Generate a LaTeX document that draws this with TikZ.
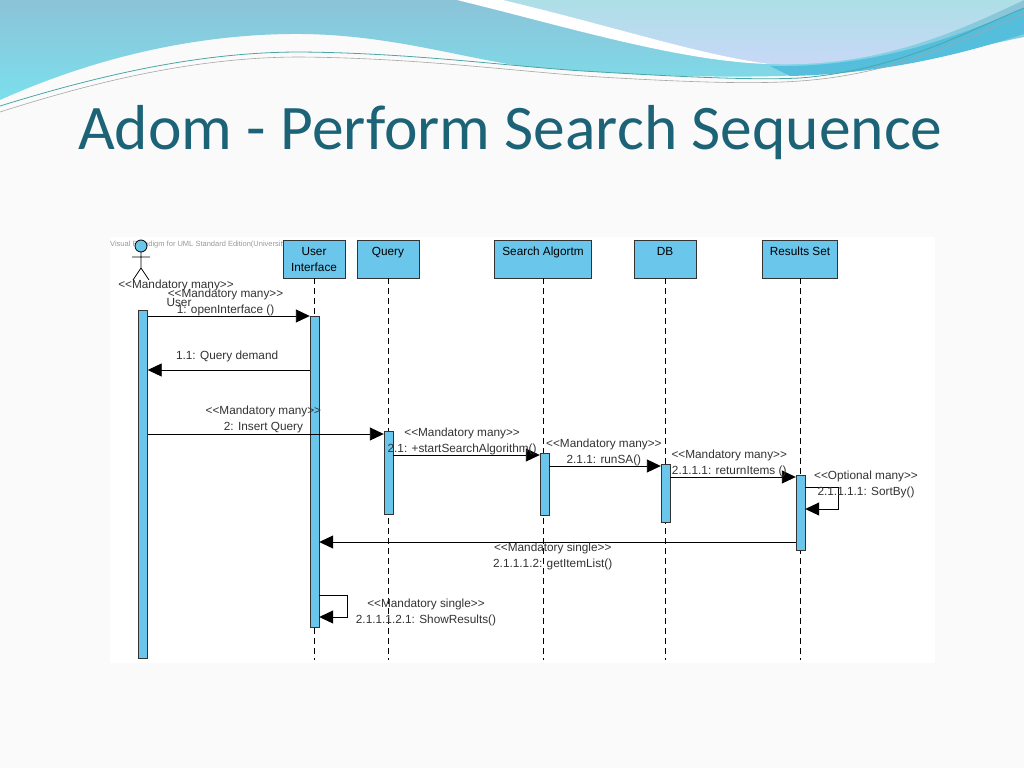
\documentclass[tikz,border=0pt]{standalone}
\usepackage{fontspec}
\setmainfont{Liberation Sans}[Ligatures=TeXOff]
\newfontfamily\titlefont{Carlito}
\usetikzlibrary{arrows.meta}
\definecolor{slidebg}{HTML}{FAFAFA}
\definecolor{titleteal}{HTML}{1C6377}
\definecolor{umlblue}{HTML}{6BC6EC}
\definecolor{wavetop}{HTML}{8CC3D8}
\definecolor{wavecyan}{HTML}{7BDFEC}
\definecolor{wavepale}{HTML}{ADDFE6}
\definecolor{wavemid}{HTML}{55BEDC}
\tikzset{
  head/.style={draw=black!80, fill=umlblue, anchor=north, align=center, inner sep=0pt,
    minimum height=38pt, font=\fontsize{11.8}{16}\selectfont},
  bar/.style={draw=black!80, fill=umlblue, anchor=north, inner sep=0pt, minimum width=9pt},
  life/.style={black, line width=0.8pt, dash pattern=on 6pt off 4pt},
  msg/.style={black, line width=0.9pt, -{Triangle[length=14pt, width=13pt]}},
  lbl/.style={align=center, inner sep=0pt, text=black!80, font=\fontsize{11.8}{16}\selectfont}
}
\begin{document}
\begin{tikzpicture}[x=1pt, y=-1pt]
\useasboundingbox (0,0) rectangle (1024,768);
\fill[slidebg] (0,0) rectangle (1024,768);
% top waves
\shade[top color=wavetop, bottom color=wavecyan] (0,0) -- (1024,0) -- (1024,37)
  .. controls (960,50) and (880,72) .. (780,76)
  .. controls (700,78) and (620,75) .. (520,66)
  .. controls (450,55) and (380,33) .. (290,34)
  .. controls (200,35) and (100,55) .. (0,100) -- cycle;
\fill[wavemid] (770,66) .. controls (880,68) and (960,35) .. (1024,8) -- (1024,34)
  .. controls (960,55) and (880,74) .. (790,76) -- cycle;
\shade[top color=wavepale, bottom color=wavepale!70!blue!40!white] (503,0)
  .. controls (620,28) and (700,55) .. (770,64)
  .. controls (880,68) and (960,30) .. (1024,0) -- cycle;
\fill[white] (457,0) -- (503,0) .. controls (620,28) and (700,55) .. (770,64)
  .. controls (680,62) and (560,25) .. (457,0) -- cycle;
\draw[teal!70, line width=0.8pt] (0,106) .. controls (100,75) and (200,52) .. (300,52)
  .. controls (420,53) and (520,68) .. (600,72) .. controls (700,78) and (760,80) .. (800,78)
  .. controls (900,70) and (970,30) .. (1024,8);
\draw[gray!70, line width=0.6pt] (0,112) .. controls (100,80) and (200,57) .. (300,57)
  .. controls (420,58) and (520,72) .. (600,77) .. controls (700,83) and (760,84) .. (800,81)
  .. controls (900,74) and (970,36) .. (1024,14);
% title
\node[anchor=base west, inner sep=0pt, text=titleteal, font=\titlefont\fontsize{63.5}{70}\selectfont]
  (T_title) at (78,149) {Adom - Perform Search Sequence};
% diagram area
\fill[white] (110,237) rectangle (935,663);
\node[anchor=west, inner sep=0pt, text=black!40, font=\fontsize{7.5}{9}\selectfont]
  (W_mark) at (110,245) {Visual Paradigm for UML Standard Edition(University};
% actor
\filldraw[draw=black, fill=umlblue, line width=0.8pt] (141,246) circle (6);
\draw[black, line width=0.8pt] (141,252) -- (141,268) (132,257) -- (150,257)
  (133,280) -- (141,268) -- (149,280);
\node[lbl] (A_stereo) at (176,285) {<<Mandatory many>>};
\node[lbl] (A_name) at (179,302) {User};
% lifeline heads
\node[head, minimum width=62pt] (H_ui) at (314,240) {User\\Interface};
\node[head, minimum width=62pt] (H_query) at (388,240) {Query\\\mbox{}};
\node[head, minimum width=97pt] (H_sa) at (543,240) {Search Algortm\\\mbox{}};
\node[head, minimum width=62pt] (H_db) at (665,240) {DB\\\mbox{}};
\node[head, minimum width=75pt] (H_rs) at (800,240) {Results Set\\\mbox{}};
\coordinate (E_ui) at (314,660);
\coordinate (E_query) at (388,660);
\coordinate (E_sa) at (543,660);
\coordinate (E_db) at (665,660);
\coordinate (E_rs) at (800,660);
\foreach \n in {ui,query,sa,db,rs}
  \draw[life] (H_\n.south) -- (E_\n);
% activations
\node[bar, minimum height=348pt] (B_user) at (143,310) {};
\node[bar, minimum height=311pt] (B_ui) at (314.5,316) {};
\node[bar, minimum height=83pt] (B_query) at (388.5,431) {};
\node[bar, minimum height=62pt] (B_sa) at (544.5,453) {};
\node[bar, minimum height=58pt] (B_db) at (665.5,464) {};
\node[bar, minimum height=75pt] (B_rs) at (800.5,475) {};
% messages
\coordinate (m1a) at (B_user.east |- 0,316);
\coordinate (m1b) at (B_ui.west |- 0,316);
\draw[msg] (m1a) -- (m1b) node[lbl, pos=0.48, above] {<<Mandatory many>>\\1: openInterface ()};
\coordinate (m2a) at (B_ui.west |- 0,370);
\coordinate (m2b) at (B_user.east |- 0,370);
\draw[msg] (m2a) -- (m2b) node[lbl, pos=0.51, above=8pt] {1.1: Query demand};
\coordinate (m3a) at (B_user.east |- 0,434);
\coordinate (m3b) at (B_query.west |- 0,434);
\draw[msg] (m3a) -- (m3b) node[lbl, pos=0.49, above=1pt] {<<Mandatory many>>\\2: Insert Query};
\coordinate (m4a) at (B_query.east |- 0,455);
\coordinate (m4b) at (B_sa.west |- 0,455);
\draw[msg] (m4a) -- (m4b) node[lbl, pos=0.47, above] {<<Mandatory many>>\\2.1: +startSearchAlgorithm()};
\coordinate (m5a) at (B_sa.east |- 0,466);
\coordinate (m5b) at (B_db.west |- 0,466);
\draw[msg] (m5a) -- (m5b) node[lbl, pos=0.49, above] {<<Mandatory many>>\\2.1.1: runSA()};
\coordinate (m6a) at (B_db.east |- 0,477);
\coordinate (m6b) at (B_rs.west |- 0,477);
\draw[msg] (m6a) -- (m6b) node[lbl, pos=0.47, above] {<<Mandatory many>>\\2.1.1.1: returnItems ()};
\coordinate (m7a) at (B_rs.east |- 0,487);
\coordinate (m7b) at (B_rs.east |- 0,509);
\draw[msg] (m7a) -- ++(33,0) |- (m7b);
\node[lbl, anchor=base] (L_m7) at (866,495) {<<Optional many>>\\2.1.1.1.1: SortBy()};
\coordinate (m8a) at (B_rs.west |- 0,542);
\coordinate (m8b) at (B_ui.east |- 0,542);
\draw[msg] (m8a) -- (m8b) node[lbl, pos=0.51, below] {<<Mandatory single>>\\2.1.1.1.2: getItemList()};
\coordinate (m9a) at (B_ui.east |- 0,595);
\coordinate (m9b) at (B_ui.east |- 0,617);
\draw[msg] (m9a) -- ++(28,0) |- (m9b);
\node[lbl, anchor=base] (L_m9) at (426,623) {<<Mandatory single>>\\2.1.1.1.2.1: ShowResults()};
\end{tikzpicture}
\end{document}
